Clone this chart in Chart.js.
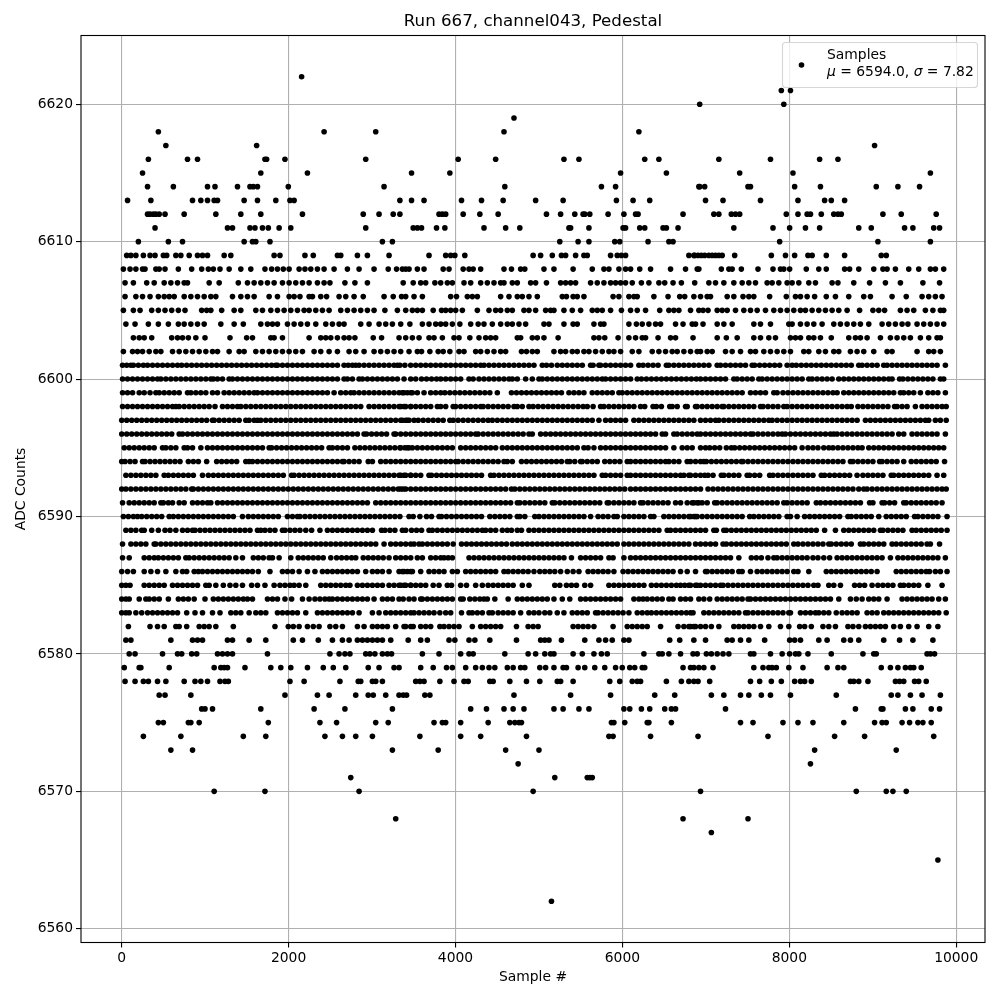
<!DOCTYPE html>
<html><head><meta charset="utf-8">
<style>html,body{margin:0;padding:0;background:#fff}canvas{display:block}</style>
<script src="https://cdn.jsdelivr.net/npm/chart.js@4/dist/chart.umd.min.js"></script>
</head><body><canvas id="c" width="1000" height="1000"></canvas>
<script>
// x values are sample numbers in tens (see sampleUnit), one array per ADC level
const chartTitle="Run 667, channel043, Pedestal";
const xLabel="Sample #";
const yLabel="ADC Counts";
const xTicks=[0,2000,4000,6000,8000,10000];
const yTicks=[6560,6570,6580,6590,6600,6610,6620];
const seriesName="Samples";
const sampleUnit=9.98;
const adc6622=[216];
const adc6621=[792,803];
const adc6620=[694,795];
const adc6619=[471];
const adc6618=[44,243,305,459,621];
const adc6617=[53,162,904];
const adc6616=[32,79,91,172,174,196,293,404,449,531,549,628,645,717,779,838,860];
const adc6615=[25,167,223,348,394,599,654,742,806,971];
const adc6614=[31,62,103,112,139,154,158,163,200,315,460,576,593,693,694,700,752,755,808,839,906,932,958];
const adc6613=[7,35,85,95,103,111,115,147,163,185,202,207,334,348,363,408,432,458,497,530,594,614,634,701,722,767,812,844,852,868];
const adc6612=[31,34,38,41,45,52,75,113,143,167,217,290,309,326,334,381,385,389,410,430,452,510,527,544,554,556,562,584,603,617,620,674,711,717,732,737,742,798,812,823,827,840,855,860,864,914,936,978];
const adc6611=[40,127,133,154,160,169,176,189,203,293,350,355,360,378,388,435,461,478,537,539,561,602,605,622,628,650,654,668,735,782,802,821,838,885,900,940,950,975,982];
const adc6610=[20,56,73,147,157,161,178,313,325,526,548,561,592,598,632,657,662,790,908,971];
const adc6609=[6,11,17,26,34,40,50,54,65,71,81,91,97,103,123,131,183,190,220,230,259,263,283,295,321,369,389,395,400,412,494,503,517,528,533,545,555,559,587,595,600,605,681,687,688,692,696,700,705,709,713,717,721,736,780,797,808,824,829,846,868,912,918];
const adc6608=[2,10,17,25,28,41,45,52,68,84,96,104,110,118,129,143,155,172,180,187,194,201,213,220,227,235,243,255,271,285,303,320,330,337,345,341,355,363,386,393,410,417,422,431,459,468,479,484,507,519,542,565,579,585,597,605,611,622,635,659,677,691,693,720,729,733,744,764,782,791,795,802,822,837,846,868,874,885,903,914,919,929,945,957,971,977,987];
const adc6607=[4,14,30,39,51,59,67,75,79,105,117,140,151,159,167,175,183,193,201,209,217,225,235,243,250,268,280,295,338,350,359,365,376,383,391,397,411,419,431,439,447,455,459,469,475,491,497,510,527,533,539,545,563,571,579,587,593,599,605,613,624,633,645,652,662,672,688,705,713,723,735,745,753,761,775,781,789,799,805,813,825,833,853,860,879,898,917,935,962,982];
const adc6606=[4,17,25,34,44,51,57,63,75,83,91,99,107,113,133,143,151,159,177,187,201,207,214,225,229,239,246,261,269,279,290,315,326,336,341,351,361,395,402,415,421,427,455,465,475,481,489,499,529,534,542,547,555,590,597,609,615,619,639,656,670,676,687,695,703,707,727,735,746,753,759,778,798,809,815,823,832,846,857,873,891,899,925,942,961,969,977,985];
const adc6605=[2,14,22,36,44,52,60,68,76,96,102,107,120,135,143,161,169,179,187,195,203,211,219,225,233,241,249,263,271,279,287,295,303,316,331,341,349,355,361,374,384,389,395,401,409,427,441,449,455,463,469,483,489,497,509,515,519,531,541,551,565,571,577,587,600,611,619,629,646,657,663,669,683,693,698,704,715,721,727,737,747,755,763,773,783,791,799,807,815,821,829,837,845,853,861,871,886,902,909,916,935,943,951,965,974,983,987];
const adc6604=[5,16,32,44,56,68,75,83,91,99,119,135,146,167,175,181,187,199,207,215,223,233,245,253,261,267,287,297,309,317,325,335,346,361,369,377,383,389,397,406,419,428,435,445,455,463,469,477,485,507,513,531,542,547,567,575,579,609,618,625,633,641,647,665,674,685,689,698,715,723,733,759,767,779,801,805,815,823,831,841,855,863,871,879,887,897,913,921,929,937,944,955,963,971,979,987];
const adc6603=[14,21,27,36,60,67,73,80,89,100,130,150,157,179,183,193,225,239,245,251,259,267,273,280,302,312,333,341,349,357,369,375,385,399,405,418,429,437,443,449,475,479,493,499,507,524,567,573,580,596,609,617,625,629,644,659,665,686,715,726,739,759,767,777,785,803,809,815,825,831,839,852,873,881,887,895,911,923,931,939,947,959,969,979,983];
const adc6602=[2,13,19,25,33,41,47,61,69,77,85,93,101,109,115,129,141,147,161,169,177,185,193,201,209,217,231,239,249,259,273,281,291,303,311,319,327,335,345,355,360,370,380,386,394,405,411,425,431,439,447,455,461,480,486,493,499,519,527,533,541,547,555,561,569,577,585,591,599,613,621,637,645,653,661,667,675,683,691,695,703,709,725,733,743,755,761,771,779,787,795,803,819,825,837,845,855,861,875,883,891,903,919,925,955,969,975,983];
const adc6601=[1,6,11,14,20,26,31,37,43,49,55,61,67,72,78,84,90,96,102,108,114,120,126,132,138,144,150,156,162,168,174,180,185,187,193,199,205,211,217,223,229,235,241,247,253,259,267,272,277,281,285,291,297,303,309,315,321,327,331,334,340,347,353,359,365,371,377,383,389,395,401,407,413,419,425,431,435,441,447,453,459,465,471,477,483,489,495,505,510,516,523,529,535,541,547,553,563,566,573,575,581,587,593,599,605,611,621,626,632,638,644,654,657,663,669,675,681,687,693,699,705,715,719,725,731,737,743,749,757,760,766,772,778,784,790,799,805,810,816,822,828,834,840,846,852,858,864,870,876,885,889,895,901,907,915,919,925,931,937,943,949,955,961,967,973,979,989];
const adc6600=[1,7,13,19,25,31,37,43,47,53,59,65,71,77,83,89,95,101,107,110,115,121,129,133,139,145,151,157,163,169,175,181,187,193,199,205,211,217,223,229,235,241,247,253,259,267,271,277,285,289,295,301,307,313,319,325,331,339,347,353,360,366,372,378,383,389,395,401,407,417,422,429,435,441,447,453,459,465,469,475,485,493,501,505,511,517,523,529,535,541,547,553,559,565,571,577,581,587,593,599,605,611,619,624,630,636,642,648,654,660,666,672,678,684,690,695,701,707,713,719,725,735,739,745,751,757,765,769,775,781,787,793,799,805,811,817,825,829,835,841,847,853,861,867,873,879,885,891,897,903,909,915,921,925,934,938,944,950,956,962,968,974,983,987];
const adc6599=[1,7,13,21,27,34,41,45,51,57,63,69,79,83,89,95,101,109,115,123,129,135,141,147,153,159,163,169,175,181,187,193,199,205,211,217,223,229,235,241,247,255,263,269,275,279,285,291,297,303,309,315,321,327,333,339,347,337,343,349,355,363,371,377,383,388,394,400,406,412,418,424,430,436,442,451,468,474,480,486,492,498,504,510,516,522,528,537,543,549,555,565,571,577,583,589,597,601,607,613,619,625,631,637,643,649,655,661,667,673,679,685,691,697,703,709,715,721,727,733,739,745,755,761,767,773,783,787,794,800,806,812,818,824,830,836,842,848,854,859,867,873,879,885,891,897,903,909,915,921,927,935,939,945,951,959,968,974,980,989];
const adc6598=[1,7,13,19,25,31,37,43,49,55,61,65,69,75,81,87,93,99,105,112,121,127,133,139,143,149,155,161,167,173,179,185,191,197,203,209,215,221,227,233,239,245,251,257,263,269,275,281,287,297,303,309,315,321,327,333,339,347,335,341,347,353,359,365,371,379,383,389,398,401,407,413,419,425,431,434,440,446,452,458,464,471,475,481,489,494,500,506,512,518,524,530,536,542,548,554,559,566,575,579,585,591,597,603,609,615,623,628,638,642,648,658,661,667,677,679,689,691,697,703,709,715,721,723,729,735,741,747,753,759,767,770,776,782,788,795,799,805,811,817,823,829,835,841,847,853,859,865,871,876,884,890,896,902,908,914,920,928,931,937,943,953,961,967,973,979,985,990];
const adc6597=[0,6,12,18,24,30,36,42,48,54,60,66,72,78,84,90,96,102,109,111,117,123,129,135,141,149,153,159,163,167,173,179,185,191,197,203,209,215,221,227,233,239,245,251,257,263,269,275,281,287,293,299,305,311,317,323,329,335,341,345,337,343,351,356,362,368,374,380,386,394,398,404,410,416,422,428,434,440,445,451,457,463,469,475,481,487,493,499,505,511,517,523,529,535,541,547,553,559,565,573,581,587,593,599,605,615,621,627,633,639,645,651,657,663,669,675,681,687,695,701,707,713,717,723,729,735,741,747,753,759,765,771,777,781,787,793,799,805,811,817,823,829,835,841,847,853,859,865,871,877,883,893,899,905,911,917,923,929,935,941,947,953,959,965,969,977,983,990];
const adc6596=[0,6,12,18,24,30,36,42,48,54,60,69,73,79,85,91,97,103,109,115,121,127,133,139,145,151,157,163,169,175,181,187,193,199,205,211,217,223,229,235,241,247,253,259,265,271,277,283,291,294,300,306,312,318,327,329,335,341,347,353,359,365,371,377,383,389,395,401,407,413,419,425,428,434,440,446,452,458,464,470,476,482,489,493,503,509,515,521,527,533,539,545,551,557,563,569,575,581,587,593,599,605,611,617,623,629,635,641,649,653,663,667,673,679,685,691,695,701,707,713,719,725,731,737,743,749,755,758,764,770,776,782,788,793,797,803,809,815,821,827,833,839,845,851,855,859,865,871,877,883,889,895,901,907,913,919,925,933,939,949,955,961,967,973,979,989];
const adc6595=[3,9,15,21,27,33,39,49,53,59,65,75,79,85,95,103,109,115,121,127,133,139,145,151,157,163,169,177,180,186,192,198,204,210,216,222,228,234,240,249,253,259,265,271,280,286,292,298,304,310,316,322,328,334,340,345,335,343,349,355,361,367,373,379,385,391,397,407,413,419,425,431,437,443,449,457,463,469,475,481,487,493,499,505,511,517,523,529,535,541,547,555,560,567,575,581,587,593,599,605,611,617,623,629,635,641,647,653,663,673,679,685,695,701,706,712,718,726,732,736,742,748,754,760,766,772,778,784,790,796,802,808,817,824,830,836,843,849,854,860,866,872,878,884,889,897,903,909,915,921,927,933,939,945,951,957,963,969,975,981,987];
const adc6594=[-2,4,10,16,25,28,34,40,46,52,58,64,70,80,86,92,102,114,120,126,132,138,149,153,157,163,169,175,181,187,193,199,205,211,217,223,229,235,241,247,253,259,265,267,273,279,285,296,301,311,317,323,329,335,341,347,353,359,365,371,377,383,389,395,401,404,410,416,422,428,434,440,446,452,459,463,469,480,486,492,498,504,510,516,522,528,535,538,544,551,553,559,565,571,580,586,592,598,607,611,617,623,629,635,641,647,653,657,663,669,679,683,689,695,699,702,708,714,720,726,732,738,744,746,752,758,764,770,776,782,788,794,800,806,812,818,824,830,836,842,848,854,860,866,875,878,884,890,896,902,910,913,919,925,931,939,948,954,960,966,972,978,988];
const adc6593=[5,11,17,23,29,35,41,51,56,62,68,74,80,86,97,104,110,116,122,128,134,140,146,152,158,164,170,176,182,188,194,204,207,213,219,225,231,237,243,249,255,261,267,273,279,285,291,297,303,309,315,321,327,333,339,347,335,341,347,353,359,369,372,378,384,390,396,402,408,414,420,426,432,443,447,453,459,465,471,477,483,489,495,501,507,513,519,525,531,537,543,549,555,561,567,577,581,587,593,599,607,611,617,623,629,635,641,647,653,659,665,671,675,681,695,683,689,700,704,710,720,723,729,735,741,751,754,760,766,778,782,788,794,800,806,812,818,824,830,840,844,850,856,862,868,874,883,890,896,902,908,914,924,927,933,939,945,951,957,963,969,979,987];
const adc6592=[-1,5,11,17,23,29,35,41,47,53,59,65,71,77,84,86,92,98,104,110,116,122,128,134,140,146,152,158,164,170,176,182,188,194,200,206,212,218,224,230,236,242,248,254,260,266,272,278,284,290,296,302,308,314,320,326,332,338,347,335,341,353,359,365,371,377,383,389,395,401,407,413,419,425,431,437,443,449,455,461,468,472,478,484,490,496,502,508,514,520,526,532,538,544,550,556,562,568,574,580,586,592,598,604,611,617,623,629,635,641,647,653,659,665,671,677,683,689,695,704,710,716,722,728,734,740,746,752,758,764,770,776,782,788,794,800,806,812,818,824,830,836,842,848,854,860,866,872,878,885,891,895,901,907,913,919,925,931,937,943,949,955,961,967,973,979,985,990];
const adc6591=[1,9,15,21,27,33,39,47,50,56,61,69,75,85,91,97,103,107,115,121,127,133,139,145,151,157,163,169,175,181,187,193,199,205,211,217,223,229,235,241,247,253,259,265,271,277,283,289,295,305,311,317,323,329,335,341,347,353,359,365,371,377,383,389,395,401,407,413,419,425,431,437,443,449,455,461,467,475,478,484,490,496,502,508,517,520,526,532,538,544,550,556,562,568,574,583,585,591,597,603,609,615,623,626,632,638,644,650,656,665,671,679,687,693,685,691,697,703,712,715,721,727,733,739,745,751,757,763,769,775,781,787,795,799,805,811,817,823,834,839,845,851,857,863,869,875,881,887,898,902,913,916,922,928,939,942,948,954,960,966,972,978,985];
const adc6590=[2,8,14,19,24,30,36,42,48,57,62,68,74,80,86,92,98,104,110,116,122,128,134,145,152,158,164,170,176,182,188,199,205,211,214,220,226,232,238,244,250,256,262,268,274,280,286,292,298,304,310,316,322,328,334,345,350,358,366,372,381,384,390,396,402,408,414,420,426,432,442,448,454,460,466,475,478,484,496,501,507,513,519,525,531,537,543,549,555,563,572,578,584,591,595,603,609,615,621,627,635,639,651,657,663,669,675,681,689,683,687,691,697,703,709,715,721,727,733,739,745,754,759,765,771,777,783,789,799,803,811,820,826,832,838,844,850,856,862,872,876,882,888,894,900,909,918,924,930,936,942,952,956,962,968,974,980,991];
const adc6589=[5,11,17,24,27,36,44,52,58,65,73,79,85,88,94,100,106,112,118,124,130,136,142,148,154,163,167,172,178,184,193,196,202,208,214,221,228,238,247,253,259,265,271,277,283,289,295,301,312,316,322,328,337,341,348,354,360,369,373,379,385,391,397,403,409,415,421,427,433,437,443,449,457,463,468,475,480,489,495,501,507,513,519,525,531,537,543,549,555,561,567,573,579,585,591,597,603,609,615,621,627,633,639,645,655,659,665,671,677,683,689,695,701,711,714,723,726,732,738,744,750,756,762,768,774,780,786,792,798,804,810,816,822,828,834,844,857,867,873,879,885,891,897,903,911,914,920,926,932,938,949,954,960,966,972,978,984,991];
const adc6588=[1,11,17,23,29,39,41,47,53,59,65,71,77,83,89,95,101,107,113,119,125,131,137,143,149,155,161,167,173,179,185,191,197,203,209,215,221,227,233,239,245,251,257,263,269,275,281,287,293,299,305,315,323,329,335,341,347,351,357,361,367,373,379,385,391,398,408,414,420,426,432,438,444,450,456,462,469,475,481,487,493,499,505,511,517,523,529,535,541,547,553,559,565,571,577,583,589,595,603,609,615,621,627,633,639,645,651,657,663,669,675,681,689,695,701,707,713,722,726,732,738,744,750,756,762,768,774,780,786,792,798,807,812,818,824,830,836,842,849,852,858,864,870,876,887,891,897,903,909,915,925,930,936,942,948,954,960,967,971,982];
const adc6587=[1,9,27,33,39,44,50,56,62,68,77,81,87,93,99,105,111,117,123,129,137,145,158,164,170,177,181,189,203,212,218,224,230,236,242,251,258,264,270,276,281,290,296,302,308,314,321,329,335,341,347,355,361,371,377,383,387,392,397,417,423,429,435,441,447,453,459,465,471,477,483,489,495,501,507,513,519,525,531,540,551,557,563,569,575,585,590,603,611,617,623,629,635,641,647,653,659,665,671,677,683,689,695,701,707,713,719,725,731,741,756,762,768,776,783,787,793,799,805,811,817,823,830,836,843,850,859,865,871,877,883,889,895,901,907,913,923,932,938,944,950,956,962,968,974,980,989];
const adc6586=[0,7,14,27,35,43,53,65,73,78,87,92,97,103,109,115,121,127,133,139,145,151,157,164,178,193,199,205,213,223,232,241,247,253,259,265,271,277,283,293,301,307,313,321,333,339,347,337,343,349,359,369,375,381,387,397,403,413,419,425,431,437,443,449,459,464,470,476,482,488,495,502,508,514,520,527,535,542,549,560,566,572,578,584,591,602,608,614,620,626,632,638,644,650,656,662,671,679,689,701,703,709,715,721,727,733,741,745,755,763,769,775,781,787,793,799,807,812,825,846,852,858,864,870,876,882,888,894,900,907,930,936,942,948,954,960,966,970,977,983,991];
const adc6585=[0,5,10,27,33,39,45,51,61,67,73,79,85,91,101,105,113,122,130,137,145,156,163,172,183,190,196,202,207,213,221,239,245,251,257,263,269,274,283,289,295,301,307,313,321,327,333,339,347,335,341,347,353,359,365,374,381,391,396,407,414,425,433,440,446,452,458,464,470,481,489,520,526,534,540,546,556,563,585,591,597,603,609,615,621,627,636,642,648,654,660,666,671,676,681,691,683,689,695,701,707,713,719,722,728,734,740,746,752,758,764,770,776,782,788,794,800,806,812,818,824,831,836,849,855,863,880,886,892,901,908,914,920,926,935,939,945,951,957,968,985];
const adc6584=[-1,5,9,21,29,33,39,45,56,68,74,80,87,100,110,116,122,128,134,140,146,151,157,175,181,187,196,204,217,225,232,238,244,249,253,259,265,271,277,283,289,295,303,313,319,325,333,338,345,351,359,361,367,373,379,385,391,397,407,410,418,424,430,435,439,448,464,475,481,487,493,499,505,511,519,529,538,551,557,563,569,575,581,587,593,599,615,621,626,631,637,643,649,657,662,671,677,683,693,699,706,715,721,727,733,739,745,752,755,761,767,773,779,785,791,797,803,809,815,821,827,833,839,845,851,861,875,882,889,897,903,909,919,937,943,949,955,961,967,973,981,989];
const adc6583=[-1,5,9,17,24,31,37,43,49,55,61,67,78,88,97,109,118,131,137,143,153,161,167,173,187,193,199,205,211,221,235,241,247,253,259,265,271,277,285,301,309,317,323,329,335,341,347,351,357,363,369,375,382,389,395,408,417,421,427,433,441,445,452,458,464,470,479,489,495,501,508,514,523,531,541,547,553,559,569,572,578,584,590,596,602,609,619,625,631,636,642,648,654,660,666,672,678,686,683,699,705,711,717,723,729,735,741,749,752,758,764,770,776,782,788,794,801,803,815,821,827,833,837,843,849,858,865,871,877,883,895,901,907,915,921,927,933,939,945,951,957,963,969,975,981,990];
const adc6582=[8,34,43,51,65,69,78,93,99,105,113,134,184,200,206,213,223,230,237,250,257,265,283,291,301,307,313,319,329,339,347,341,350,359,365,371,382,387,393,399,405,421,431,437,443,449,455,474,488,494,500,542,548,554,560,567,590,607,613,619,625,631,647,668,675,681,687,695,683,689,701,708,717,735,741,747,753,759,767,777,791,801,814,820,828,842,849,857,872,878,885,893,899,905,911,917,927,935,945,955,969,980];
const adc6581=[5,11,59,85,91,97,127,133,153,173,206,217,236,253,265,273,283,289,295,301,307,313,323,344,359,367,393,400,417,424,442,474,503,508,513,528,556,573,581,589,603,609,658,670,687,701,727,733,743,753,772,802,808,815,837,847,867,875,885,915,934,950,974];
const adc6580=[9,16,49,67,72,84,90,115,121,127,133,175,250,261,268,274,293,298,304,313,319,324,361,381,407,417,422,460,488,497,508,515,519,542,553,567,576,583,627,645,649,657,671,686,691,702,708,715,722,729,755,759,779,793,802,809,813,824,852,890,903,906,967,971,976];
const adc6579=[3,21,23,57,111,119,123,127,148,179,191,203,223,242,254,269,296,309,327,333,359,374,390,397,413,425,433,441,448,463,470,479,484,502,509,519,530,534,548,556,568,580,593,601,610,616,625,628,674,683,687,693,699,710,759,770,777,781,786,801,818,847,860,867,912,923,932,941,947,951,960];
const adc6578=[4,16,26,32,43,53,75,88,95,103,118,124,128,202,219,262,284,287,301,305,313,353,358,363,382,399,411,416,442,446,466,486,502,523,527,542,586,598,613,619,623,654,672,681,687,692,706,755,766,780,792,808,815,820,828,875,879,885,896,929,934,939,952,957,966];
const adc6577=[45,52,83,196,235,249,281,296,302,317,333,338,342,364,370,471,539,587,640,664,708,723,743,753,768,779,803,858,924,932,947,961,983];
const adc6576=[96,100,109,167,231,268,325,419,438,459,470,483,519,530,549,561,603,610,624,634,652,660,665,725,881,912,914,941,950,972,982];
const adc6575=[44,50,80,83,93,176,238,258,305,320,375,385,389,407,440,466,472,477,480,588,591,604,631,633,660,743,758,794,812,830,867,904,913,918,937,946,956,962,972];
const adc6574=[26,71,146,173,244,265,281,301,358,407,431,486,585,590,635,692,776,856,892,975];
const adc6573=[59,85,325,380,461,501,832,930];
const adc6572=[476,827];
const adc6571=[275,520,559,562,565];
const adc6570=[111,172,285,494,695,882,918,926,942];
const adc6568=[329,674,752];
const adc6567=[708];
const adc6565=[980];
const adc6562=[516];
const legendLine="= 6594.0, ";
const sigmaValue="= 7.82";
const levelTable=[[6622,adc6622],[6621,adc6621],[6620,adc6620],[6619,adc6619],[6618,adc6618],[6617,adc6617],[6616,adc6616],[6615,adc6615],[6614,adc6614],[6613,adc6613],[6612,adc6612],[6611,adc6611],[6610,adc6610],[6609,adc6609],[6608,adc6608],[6607,adc6607],[6606,adc6606],[6605,adc6605],[6604,adc6604],[6603,adc6603],[6602,adc6602],[6601,adc6601],[6600,adc6600],[6599,adc6599],[6598,adc6598],[6597,adc6597],[6596,adc6596],[6595,adc6595],[6594,adc6594],[6593,adc6593],[6592,adc6592],[6591,adc6591],[6590,adc6590],[6589,adc6589],[6588,adc6588],[6587,adc6587],[6586,adc6586],[6585,adc6585],[6584,adc6584],[6583,adc6583],[6582,adc6582],[6581,adc6581],[6580,adc6580],[6579,adc6579],[6578,adc6578],[6577,adc6577],[6576,adc6576],[6575,adc6575],[6574,adc6574],[6573,adc6573],[6572,adc6572],[6571,adc6571],[6570,adc6570],[6568,adc6568],[6567,adc6567],[6565,adc6565],[6562,adc6562]];
const points=levelTable.flatMap(([y,xs])=>xs.map(v=>({x:Math.max(0,v)*sampleUnit,y})));
const FONT='"DejaVu Sans"';
const frame={id:'frame',afterDraw(ch){
  const c=ch.ctx,a=ch.chartArea;
  c.save();
  c.strokeStyle='#000';c.lineWidth=1.1;
  c.strokeRect(a.left,a.top,a.right-a.left,a.bottom-a.top);
  // legend
  const lx=782.5,ly=42.5,lw=195,lh=45;
  c.beginPath();c.roundRect(lx,ly,lw,lh,3);
  c.fillStyle='rgba(255,255,255,0.8)';c.fill();
  c.strokeStyle='rgba(204,204,204,0.8)';c.lineWidth=1.1;c.stroke();
  c.fillStyle='#000';
  c.beginPath();c.arc(801.5,65,2.8,0,Math.PI*2);c.fill();
  c.textBaseline='alphabetic';c.textAlign='left';
  const up=`13.89px ${FONT}`,it=`italic 13.89px ${FONT}`;
  c.font=up;c.fillText(seriesName,827,59);
  let x=827;const y=76;
  const put=(t,f)=>{c.font=f;c.fillText(t,x,y);x+=c.measureText(t).width;};
  put('μ',it);put(' ',up);put(legendLine,up);put('σ',it);put(' ',up);put(sigmaValue,up);
  c.restore();
}};
new Chart(document.getElementById('c'),{
  type:'scatter',
  data:{datasets:[{label:seriesName,data:points,pointRadius:2.8,pointHoverRadius:2.8,pointBackgroundColor:'#000',pointBorderWidth:0,showLine:false}]},
  options:{
    responsive:false,animation:false,events:[],
    layout:{padding:{left:0,right:15,top:0,bottom:0}},
    plugins:{
      legend:{display:false},tooltip:{enabled:false},
      title:{display:true,fullSize:false,text:chartTitle,color:'#000',font:{family:FONT,size:16.67,weight:'normal',lineHeight:1.2},padding:{top:12,bottom:3.5}}
    },
    scales:{
      x:{type:'linear',position:'bottom',min:-488,max:10345,
        afterBuildTicks:s=>{s.ticks=xTicks.map(v=>({value:v}));},
        afterFit:s=>{s.height=57.5;},
        ticks:{color:'#000',font:{family:FONT,size:13.89},padding:3,maxRotation:0,callback:v=>String(v)},
        grid:{color:'#b0b0b0',lineWidth:1.1,tickColor:'#000',tickLength:5,tickWidth:1.1},
        border:{display:false},
        title:{display:true,text:xLabel,color:'#000',font:{family:FONT,size:13.89},padding:{top:0,bottom:14}}},
      y:{type:'linear',position:'left',min:6559,max:6625,
        afterBuildTicks:s=>{s.ticks=yTicks.map(v=>({value:v}));},
        afterFit:s=>{s.width=81;},
        ticks:{color:'#000',font:{family:FONT,size:13.89},padding:3,callback:v=>String(v)},
        grid:{color:'#b0b0b0',lineWidth:1.1,tickColor:'#000',tickLength:5,tickWidth:1.1},
        border:{display:false},
        title:{display:true,text:yLabel,color:'#000',font:{family:FONT,size:13.89},padding:{top:13,bottom:0}}}
    }
  },
  plugins:[frame]
});
</script></body></html>
